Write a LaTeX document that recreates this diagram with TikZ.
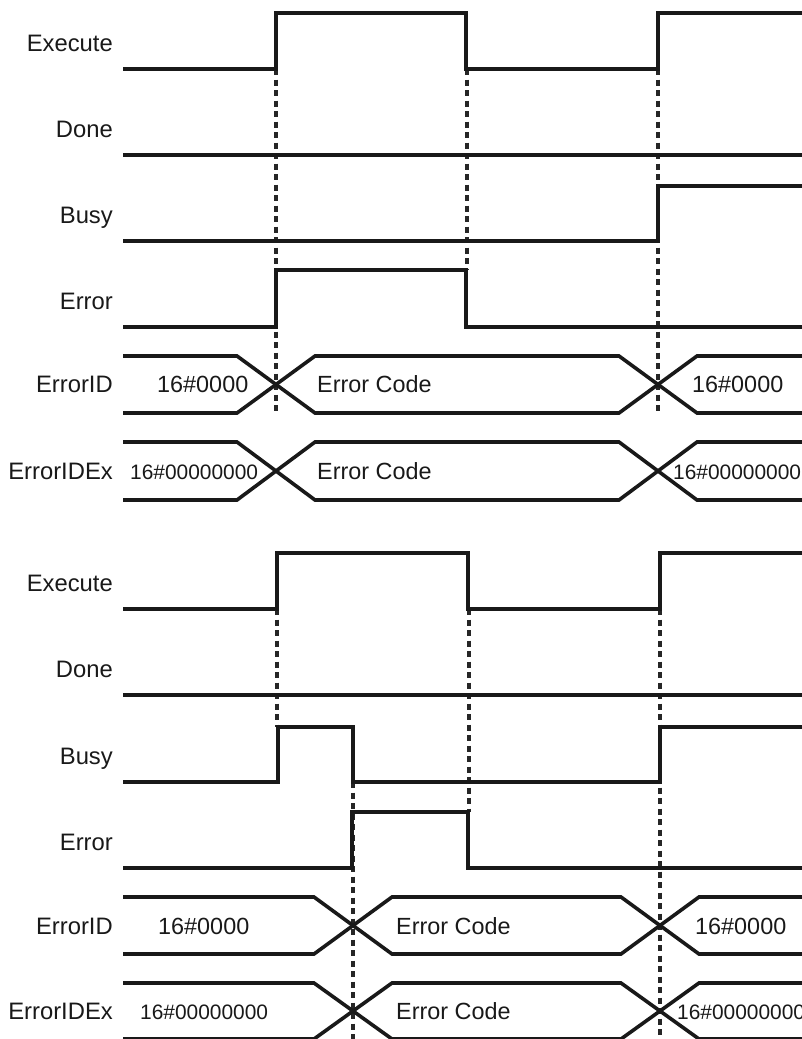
\documentclass[tikz,border=0pt]{standalone}
\usepackage{fontspec}
\setmainfont{Liberation Sans}
\tikzset{
  wave/.style={line width=3.6pt, line join=miter, line cap=butt, black!90},
  guide/.style={line width=3.2pt, dash pattern=on 6pt off 4.5pt, black!85},
  lbl/.style={anchor=base east, inner sep=0pt, font=\fontsize{23.8}{28}\selectfont, black!90},
  val/.style={anchor=base west, inner sep=0pt, font=\fontsize{23.4}{28}\selectfont, black!90},
  valx/.style={anchor=base west, inner sep=0pt, font=\fontsize{20.9}{25}\selectfont, black!90}
}
\begin{document}
\begin{tikzpicture}[x=1pt,y=-1pt]
\useasboundingbox (0,0) rectangle (802,1039);
\clip (0,0) rectangle (802,1039);

% ===== Top section =====
\node[lbl] (tExL) at (113,51) {Execute};
\node[lbl] (tDoL) at (113,137) {Done};
\node[lbl] (tBuL) at (113,223) {Busy};
\node[lbl] (tErL) at (113,309) {Error};
\node[lbl] (tIdL) at (113,392.5) {ErrorID};
\node[lbl] (tIxL) at (113,479.5) {ErrorIDEx};

\draw[guide] (276,69) -- (276,413);
\draw[guide] (467,69) -- (467,270);
\draw[guide] (658,69) -- (658,413);

\draw[wave] (123,69) -- (276,69) -- (276,13) -- (466,13) -- (466,69) -- (658,69) -- (658,13) -- (802,13);
\draw[wave] (123,155) -- (802,155);
\draw[wave] (123,241) -- (658,241) -- (658,186) -- (802,186);
\draw[wave] (123,327) -- (276,327) -- (276,270) -- (466,270) -- (466,327) -- (802,327);

\draw[wave] (123,356) -- (237,356) -- (315,413) -- (619,413) -- (697,356) -- (802,356);
\draw[wave] (123,413) -- (237,413) -- (315,356) -- (619,356) -- (697,413) -- (802,413);
\node[val] (tIdA) at (157,392.5) {16\#0000};
\node[val] (tIdB) at (317,392.5) {Error Code};
\node[val] (tIdC) at (692,392.5) {16\#0000};

\draw[wave] (123,442) -- (237,442) -- (315,500) -- (619,500) -- (697,442) -- (802,442);
\draw[wave] (123,500) -- (237,500) -- (315,442) -- (619,442) -- (697,500) -- (802,500);
\node[valx] (tIxA) at (130,479) {16\#00000000};
\node[val] (tIxB) at (317,479.5) {Error Code};
\node[valx] (tIxC) at (673,479) {16\#00000000};

% ===== Bottom section =====
\node[lbl] (bExL) at (113,591) {Execute};
\node[lbl] (bDoL) at (113,677) {Done};
\node[lbl] (bBuL) at (113,764) {Busy};
\node[lbl] (bErL) at (113,850) {Error};
\node[lbl] (bIdL) at (113,934.5) {ErrorID};
\node[lbl] (bIxL) at (113,1019.5) {ErrorIDEx};

\draw[guide] (277,609) -- (277,727);
\draw[guide] (469,609) -- (469,812);
\draw[guide] (353,782) -- (353,1039);
\draw[guide] (660,609) -- (660,1039);

\draw[wave] (123,609) -- (277,609) -- (277,553) -- (468,553) -- (468,609) -- (660,609) -- (660,553) -- (802,553);
\draw[wave] (123,695) -- (802,695);
\draw[wave] (123,782) -- (278,782) -- (278,727) -- (353,727) -- (353,782) -- (660,782) -- (660,727) -- (802,727);
\draw[wave] (123,868) -- (352,868) -- (352,812) -- (468,812) -- (468,868) -- (802,868);

\draw[wave] (123,897) -- (314,897) -- (392,954) -- (621,954) -- (699,897) -- (802,897);
\draw[wave] (123,954) -- (314,954) -- (392,897) -- (621,897) -- (699,954) -- (802,954);
\node[val] (bIdA) at (158,934.5) {16\#0000};
\node[val] (bIdB) at (396,934.5) {Error Code};
\node[val] (bIdC) at (695,934.5) {16\#0000};

\draw[wave] (123,983) -- (314,983) -- (392,1039) -- (621,1039) -- (699,983) -- (802,983);
\draw[wave] (123,1039) -- (314,1039) -- (392,983) -- (621,983) -- (699,1039) -- (802,1039);
\node[valx] (bIxA) at (140,1019) {16\#00000000};
\node[val] (bIxB) at (396,1019.5) {Error Code};
\node[valx] (bIxC) at (677,1019) {16\#00000000};
\end{tikzpicture}
\end{document}
